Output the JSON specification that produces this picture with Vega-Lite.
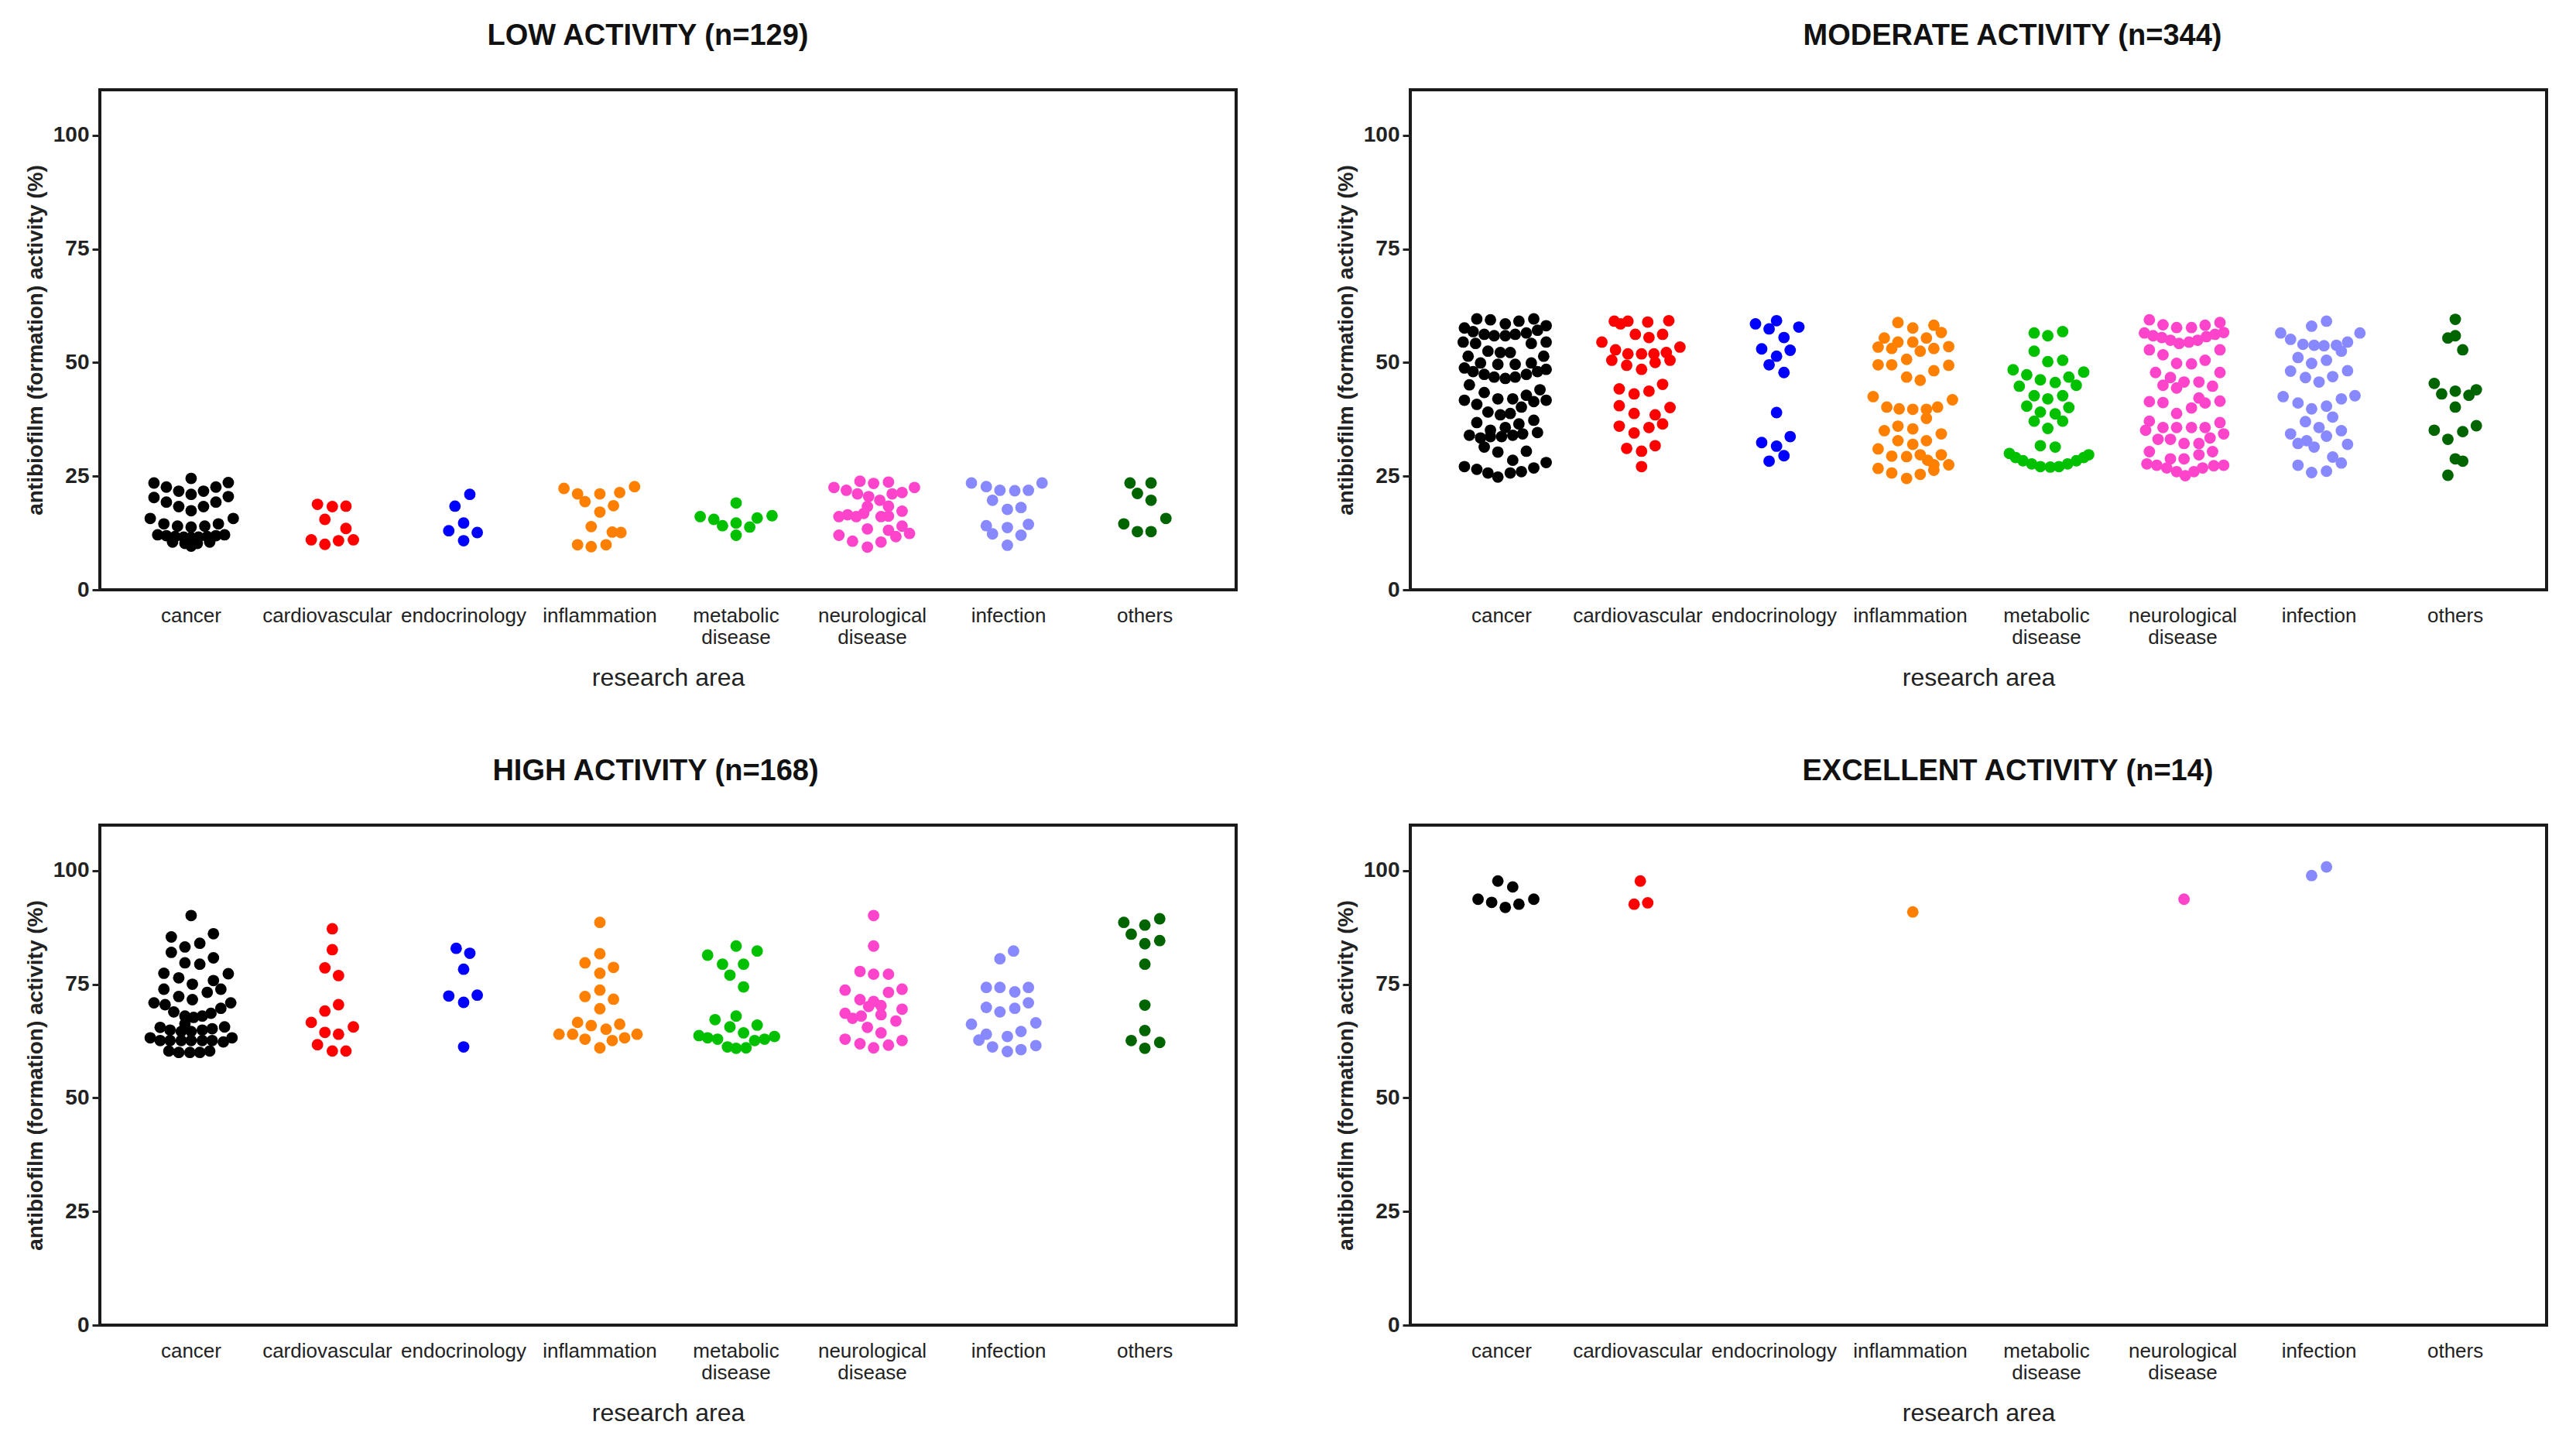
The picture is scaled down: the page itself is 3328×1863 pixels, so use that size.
{
"$schema": "https://vega.github.io/schema/vega-lite/v6.json",
"background": "white",
"padding": {"left": 30, "top": 26, "right": 10, "bottom": 10},
"columns": 2,
"spacing": {"row": 83, "column": 124},
"data": {"values": [
{"panel":"low","area":"cancer","pct":24.5,"lane":0},
{"panel":"low","area":"cancer","pct":23.5,"lane":-3},
{"panel":"low","area":"cancer","pct":22.6,"lane":-2},
{"panel":"low","area":"cancer","pct":21.7,"lane":-1},
{"panel":"low","area":"cancer","pct":21.0,"lane":0},
{"panel":"low","area":"cancer","pct":21.7,"lane":1},
{"panel":"low","area":"cancer","pct":22.6,"lane":2},
{"panel":"low","area":"cancer","pct":23.6,"lane":3},
{"panel":"low","area":"cancer","pct":20.3,"lane":-3},
{"panel":"low","area":"cancer","pct":19.3,"lane":-2},
{"panel":"low","area":"cancer","pct":18.3,"lane":-1},
{"panel":"low","area":"cancer","pct":17.4,"lane":0},
{"panel":"low","area":"cancer","pct":18.3,"lane":1},
{"panel":"low","area":"cancer","pct":19.3,"lane":2},
{"panel":"low","area":"cancer","pct":20.5,"lane":3},
{"panel":"low","area":"cancer","pct":15.7,"lane":-3.3},
{"panel":"low","area":"cancer","pct":15.7,"lane":3.4},
{"panel":"low","area":"cancer","pct":14.5,"lane":-2.2},
{"panel":"low","area":"cancer","pct":14.0,"lane":-1.1},
{"panel":"low","area":"cancer","pct":13.8,"lane":0},
{"panel":"low","area":"cancer","pct":14.0,"lane":1.1},
{"panel":"low","area":"cancer","pct":14.5,"lane":2.2},
{"panel":"low","area":"cancer","pct":12.1,"lane":-2.7},
{"panel":"low","area":"cancer","pct":11.9,"lane":-2},
{"panel":"low","area":"cancer","pct":11.7,"lane":-1.3},
{"panel":"low","area":"cancer","pct":11.6,"lane":-0.6},
{"panel":"low","area":"cancer","pct":11.5,"lane":0},
{"panel":"low","area":"cancer","pct":11.6,"lane":0.6},
{"panel":"low","area":"cancer","pct":11.7,"lane":1.3},
{"panel":"low","area":"cancer","pct":11.9,"lane":2},
{"panel":"low","area":"cancer","pct":12.1,"lane":2.7},
{"panel":"low","area":"cancer","pct":10.5,"lane":-1.5},
{"panel":"low","area":"cancer","pct":10.2,"lane":-0.5},
{"panel":"low","area":"cancer","pct":10.2,"lane":0.5},
{"panel":"low","area":"cancer","pct":10.5,"lane":1.5},
{"panel":"low","area":"cancer","pct":9.6,"lane":0},
{"panel":"low","area":"cardiovascular","pct":18.8,"lane":-0.8},
{"panel":"low","area":"cardiovascular","pct":18.3,"lane":0.4},
{"panel":"low","area":"cardiovascular","pct":18.4,"lane":1.5},
{"panel":"low","area":"cardiovascular","pct":15.5,"lane":-0.2},
{"panel":"low","area":"cardiovascular","pct":13.5,"lane":1.5},
{"panel":"low","area":"cardiovascular","pct":11.0,"lane":-1.3},
{"panel":"low","area":"cardiovascular","pct":10.0,"lane":-0.2},
{"panel":"low","area":"cardiovascular","pct":10.8,"lane":0.9},
{"panel":"low","area":"cardiovascular","pct":11.0,"lane":2.1},
{"panel":"low","area":"endocrinology","pct":21.0,"lane":0.5},
{"panel":"low","area":"endocrinology","pct":18.4,"lane":-0.7},
{"panel":"low","area":"endocrinology","pct":14.7,"lane":0},
{"panel":"low","area":"endocrinology","pct":13.0,"lane":-1.2},
{"panel":"low","area":"endocrinology","pct":12.6,"lane":1.1},
{"panel":"low","area":"endocrinology","pct":10.8,"lane":0},
{"panel":"low","area":"inflammation","pct":22.3,"lane":-2.9},
{"panel":"low","area":"inflammation","pct":22.7,"lane":2.8},
{"panel":"low","area":"inflammation","pct":21.1,"lane":-1.8},
{"panel":"low","area":"inflammation","pct":21.1,"lane":0},
{"panel":"low","area":"inflammation","pct":21.4,"lane":1.6},
{"panel":"low","area":"inflammation","pct":19.4,"lane":-1.2},
{"panel":"low","area":"inflammation","pct":18.5,"lane":1.1},
{"panel":"low","area":"inflammation","pct":17.1,"lane":0},
{"panel":"low","area":"inflammation","pct":13.9,"lane":-0.7},
{"panel":"low","area":"inflammation","pct":12.7,"lane":1},
{"panel":"low","area":"inflammation","pct":12.6,"lane":1.7},
{"panel":"low","area":"inflammation","pct":9.9,"lane":-1.8},
{"panel":"low","area":"inflammation","pct":9.5,"lane":-0.7},
{"panel":"low","area":"inflammation","pct":9.9,"lane":0.5},
{"panel":"low","area":"metabolic disease","pct":16.1,"lane":-2.9},
{"panel":"low","area":"metabolic disease","pct":15.5,"lane":-1.8},
{"panel":"low","area":"metabolic disease","pct":14.1,"lane":-1.1},
{"panel":"low","area":"metabolic disease","pct":19.1,"lane":0},
{"panel":"low","area":"metabolic disease","pct":14.7,"lane":0},
{"panel":"low","area":"metabolic disease","pct":13.8,"lane":1.1},
{"panel":"low","area":"metabolic disease","pct":15.8,"lane":1.7},
{"panel":"low","area":"metabolic disease","pct":16.3,"lane":2.9},
{"panel":"low","area":"metabolic disease","pct":12.0,"lane":0},
{"panel":"low","area":"neurological disease","pct":22.5,"lane":-3.1},
{"panel":"low","area":"neurological disease","pct":21.9,"lane":-2.1},
{"panel":"low","area":"neurological disease","pct":23.9,"lane":-1},
{"panel":"low","area":"neurological disease","pct":23.4,"lane":0.1},
{"panel":"low","area":"neurological disease","pct":23.7,"lane":1.3},
{"panel":"low","area":"neurological disease","pct":22.5,"lane":3.4},
{"panel":"low","area":"neurological disease","pct":21.1,"lane":-1.2},
{"panel":"low","area":"neurological disease","pct":20.5,"lane":-0.3},
{"panel":"low","area":"neurological disease","pct":21.1,"lane":1.6},
{"panel":"low","area":"neurological disease","pct":21.4,"lane":2.4},
{"panel":"low","area":"neurological disease","pct":19.7,"lane":0.6},
{"panel":"low","area":"neurological disease","pct":18.3,"lane":-0.4},
{"panel":"low","area":"neurological disease","pct":18.4,"lane":1.3},
{"panel":"low","area":"neurological disease","pct":17.3,"lane":2.4},
{"panel":"low","area":"neurological disease","pct":16.1,"lane":-2.7},
{"panel":"low","area":"neurological disease","pct":16.5,"lane":-2},
{"panel":"low","area":"neurological disease","pct":16.1,"lane":-1.3},
{"panel":"low","area":"neurological disease","pct":16.8,"lane":-0.7},
{"panel":"low","area":"neurological disease","pct":16.1,"lane":0.7},
{"panel":"low","area":"neurological disease","pct":16.2,"lane":1.3},
{"panel":"low","area":"neurological disease","pct":13.4,"lane":-0.4},
{"panel":"low","area":"neurological disease","pct":13.1,"lane":1.3},
{"panel":"low","area":"neurological disease","pct":14.0,"lane":2.4},
{"panel":"low","area":"neurological disease","pct":11.7,"lane":1.9},
{"panel":"low","area":"neurological disease","pct":12.4,"lane":3},
{"panel":"low","area":"neurological disease","pct":12.0,"lane":-2.7},
{"panel":"low","area":"neurological disease","pct":10.7,"lane":-1.6},
{"panel":"low","area":"neurological disease","pct":9.4,"lane":-0.4},
{"panel":"low","area":"neurological disease","pct":10.5,"lane":0.7},
{"panel":"low","area":"infection","pct":23.5,"lane":-3},
{"panel":"low","area":"infection","pct":22.7,"lane":-1.8},
{"panel":"low","area":"infection","pct":21.9,"lane":-0.7},
{"panel":"low","area":"infection","pct":21.8,"lane":0.5},
{"panel":"low","area":"infection","pct":21.9,"lane":1.6},
{"panel":"low","area":"infection","pct":23.5,"lane":2.7},
{"panel":"low","area":"infection","pct":19.7,"lane":-1.3},
{"panel":"low","area":"infection","pct":17.7,"lane":-0.1},
{"panel":"low","area":"infection","pct":18.1,"lane":1},
{"panel":"low","area":"infection","pct":14.1,"lane":-1.8},
{"panel":"low","area":"infection","pct":13.7,"lane":-0.1},
{"panel":"low","area":"infection","pct":14.4,"lane":1.6},
{"panel":"low","area":"infection","pct":12.3,"lane":-1.3},
{"panel":"low","area":"infection","pct":12.0,"lane":1},
{"panel":"low","area":"infection","pct":9.8,"lane":-0.1},
{"panel":"low","area":"others","pct":23.5,"lane":-1.2},
{"panel":"low","area":"others","pct":23.5,"lane":0.5},
{"panel":"low","area":"others","pct":21.2,"lane":-0.6},
{"panel":"low","area":"others","pct":19.7,"lane":0.5},
{"panel":"low","area":"others","pct":15.7,"lane":1.7},
{"panel":"low","area":"others","pct":14.5,"lane":-1.7},
{"panel":"low","area":"others","pct":12.8,"lane":-0.6},
{"panel":"low","area":"others","pct":12.8,"lane":0.5},
{"panel":"moderate","area":"cancer","pct":59.6,"lane":-2},
{"panel":"moderate","area":"cancer","pct":59.4,"lane":-0.9},
{"panel":"moderate","area":"cancer","pct":58.5,"lane":0.3},
{"panel":"moderate","area":"cancer","pct":59.1,"lane":1.4},
{"panel":"moderate","area":"cancer","pct":59.6,"lane":2.6},
{"panel":"moderate","area":"cancer","pct":57.6,"lane":-3},
{"panel":"moderate","area":"cancer","pct":56.8,"lane":-2.3},
{"panel":"moderate","area":"cancer","pct":56.2,"lane":-1.4},
{"panel":"moderate","area":"cancer","pct":55.9,"lane":-0.6},
{"panel":"moderate","area":"cancer","pct":55.9,"lane":0.3},
{"panel":"moderate","area":"cancer","pct":56.2,"lane":1.1},
{"panel":"moderate","area":"cancer","pct":56.5,"lane":2},
{"panel":"moderate","area":"cancer","pct":57.1,"lane":2.9},
{"panel":"moderate","area":"cancer","pct":58.1,"lane":3.6},
{"panel":"moderate","area":"cancer","pct":54.5,"lane":-3.1},
{"panel":"moderate","area":"cancer","pct":54.2,"lane":-2.1},
{"panel":"moderate","area":"cancer","pct":54.2,"lane":2.4},
{"panel":"moderate","area":"cancer","pct":54.5,"lane":3.6},
{"panel":"moderate","area":"cancer","pct":52.5,"lane":-1.1},
{"panel":"moderate","area":"cancer","pct":52.2,"lane":-0.1},
{"panel":"moderate","area":"cancer","pct":52.2,"lane":0.7},
{"panel":"moderate","area":"cancer","pct":51.4,"lane":-2.7},
{"panel":"moderate","area":"cancer","pct":51.4,"lane":3.4},
{"panel":"moderate","area":"cancer","pct":48.8,"lane":-3},
{"panel":"moderate","area":"cancer","pct":48.0,"lane":-2.3},
{"panel":"moderate","area":"cancer","pct":47.4,"lane":-1.4},
{"panel":"moderate","area":"cancer","pct":46.8,"lane":-0.6},
{"panel":"moderate","area":"cancer","pct":46.5,"lane":0.3},
{"panel":"moderate","area":"cancer","pct":46.8,"lane":1.1},
{"panel":"moderate","area":"cancer","pct":47.4,"lane":2},
{"panel":"moderate","area":"cancer","pct":48.0,"lane":2.9},
{"panel":"moderate","area":"cancer","pct":48.5,"lane":3.6},
{"panel":"moderate","area":"cancer","pct":49.9,"lane":-1.7},
{"panel":"moderate","area":"cancer","pct":49.6,"lane":-0.3},
{"panel":"moderate","area":"cancer","pct":49.6,"lane":1.1},
{"panel":"moderate","area":"cancer","pct":49.9,"lane":2.4},
{"panel":"moderate","area":"cancer","pct":45.1,"lane":-2.6},
{"panel":"moderate","area":"cancer","pct":44.0,"lane":3.1},
{"panel":"moderate","area":"cancer","pct":43.4,"lane":-1.4},
{"panel":"moderate","area":"cancer","pct":42.0,"lane":-0.3},
{"panel":"moderate","area":"cancer","pct":42.0,"lane":0.9},
{"panel":"moderate","area":"cancer","pct":42.8,"lane":2},
{"panel":"moderate","area":"cancer","pct":41.7,"lane":-3},
{"panel":"moderate","area":"cancer","pct":40.8,"lane":-2},
{"panel":"moderate","area":"cancer","pct":41.7,"lane":3.6},
{"panel":"moderate","area":"cancer","pct":41.4,"lane":2.6},
{"panel":"moderate","area":"cancer","pct":40.2,"lane":1.6},
{"panel":"moderate","area":"cancer","pct":39.1,"lane":-1.1},
{"panel":"moderate","area":"cancer","pct":38.5,"lane":-0.1},
{"panel":"moderate","area":"cancer","pct":38.8,"lane":0.7},
{"panel":"moderate","area":"cancer","pct":36.8,"lane":-2},
{"panel":"moderate","area":"cancer","pct":35.1,"lane":-0.9},
{"panel":"moderate","area":"cancer","pct":35.7,"lane":0.3},
{"panel":"moderate","area":"cancer","pct":36.5,"lane":1.4},
{"panel":"moderate","area":"cancer","pct":37.3,"lane":2.6},
{"panel":"moderate","area":"cancer","pct":34.0,"lane":-2.6},
{"panel":"moderate","area":"cancer","pct":33.4,"lane":-1.7},
{"panel":"moderate","area":"cancer","pct":33.7,"lane":-0.9},
{"panel":"moderate","area":"cancer","pct":33.7,"lane":0},
{"panel":"moderate","area":"cancer","pct":34.0,"lane":0.9},
{"panel":"moderate","area":"cancer","pct":34.3,"lane":1.7},
{"panel":"moderate","area":"cancer","pct":34.6,"lane":2.9},
{"panel":"moderate","area":"cancer","pct":31.4,"lane":-1.4},
{"panel":"moderate","area":"cancer","pct":30.3,"lane":-0.3},
{"panel":"moderate","area":"cancer","pct":30.5,"lane":2},
{"panel":"moderate","area":"cancer","pct":28.5,"lane":0.9},
{"panel":"moderate","area":"cancer","pct":27.1,"lane":-3},
{"panel":"moderate","area":"cancer","pct":26.5,"lane":-2},
{"panel":"moderate","area":"cancer","pct":25.7,"lane":-1.1},
{"panel":"moderate","area":"cancer","pct":24.8,"lane":-0.3},
{"panel":"moderate","area":"cancer","pct":25.7,"lane":0.7},
{"panel":"moderate","area":"cancer","pct":26.0,"lane":1.6},
{"panel":"moderate","area":"cancer","pct":26.8,"lane":2.6},
{"panel":"moderate","area":"cancer","pct":28.0,"lane":3.6},
{"panel":"moderate","area":"cardiovascular","pct":59.1,"lane":-1.9},
{"panel":"moderate","area":"cardiovascular","pct":58.5,"lane":-1.4},
{"panel":"moderate","area":"cardiovascular","pct":59.1,"lane":-0.8},
{"panel":"moderate","area":"cardiovascular","pct":58.9,"lane":0.8},
{"panel":"moderate","area":"cardiovascular","pct":59.2,"lane":2.5},
{"panel":"moderate","area":"cardiovascular","pct":56.2,"lane":-0.2},
{"panel":"moderate","area":"cardiovascular","pct":55.5,"lane":0.9},
{"panel":"moderate","area":"cardiovascular","pct":56.2,"lane":2},
{"panel":"moderate","area":"cardiovascular","pct":54.5,"lane":-2.9},
{"panel":"moderate","area":"cardiovascular","pct":52.8,"lane":-1.8},
{"panel":"moderate","area":"cardiovascular","pct":51.9,"lane":-0.8},
{"panel":"moderate","area":"cardiovascular","pct":51.9,"lane":0.3},
{"panel":"moderate","area":"cardiovascular","pct":51.9,"lane":1.3},
{"panel":"moderate","area":"cardiovascular","pct":52.2,"lane":2.3},
{"panel":"moderate","area":"cardiovascular","pct":53.4,"lane":3.4},
{"panel":"moderate","area":"cardiovascular","pct":50.5,"lane":-2.1},
{"panel":"moderate","area":"cardiovascular","pct":49.4,"lane":-0.9},
{"panel":"moderate","area":"cardiovascular","pct":48.5,"lane":0.3},
{"panel":"moderate","area":"cardiovascular","pct":50.0,"lane":1.4},
{"panel":"moderate","area":"cardiovascular","pct":50.5,"lane":2.6},
{"panel":"moderate","area":"cardiovascular","pct":44.2,"lane":-1.5},
{"panel":"moderate","area":"cardiovascular","pct":43.1,"lane":-0.3},
{"panel":"moderate","area":"cardiovascular","pct":43.7,"lane":0.9},
{"panel":"moderate","area":"cardiovascular","pct":45.2,"lane":2},
{"panel":"moderate","area":"cardiovascular","pct":40.5,"lane":-1.5},
{"panel":"moderate","area":"cardiovascular","pct":38.8,"lane":-0.3},
{"panel":"moderate","area":"cardiovascular","pct":38.5,"lane":1.4},
{"panel":"moderate","area":"cardiovascular","pct":40.1,"lane":2.6},
{"panel":"moderate","area":"cardiovascular","pct":36.5,"lane":2},
{"panel":"moderate","area":"cardiovascular","pct":36.0,"lane":-1.5},
{"panel":"moderate","area":"cardiovascular","pct":34.5,"lane":-0.3},
{"panel":"moderate","area":"cardiovascular","pct":35.7,"lane":0.9},
{"panel":"moderate","area":"cardiovascular","pct":31.1,"lane":-0.9},
{"panel":"moderate","area":"cardiovascular","pct":30.5,"lane":0.3},
{"panel":"moderate","area":"cardiovascular","pct":31.7,"lane":1.4},
{"panel":"moderate","area":"cardiovascular","pct":27.1,"lane":0.3},
{"panel":"moderate","area":"endocrinology","pct":58.5,"lane":-1.5},
{"panel":"moderate","area":"endocrinology","pct":59.2,"lane":0.2},
{"panel":"moderate","area":"endocrinology","pct":57.4,"lane":-0.4},
{"panel":"moderate","area":"endocrinology","pct":57.8,"lane":2},
{"panel":"moderate","area":"endocrinology","pct":55.5,"lane":0.8},
{"panel":"moderate","area":"endocrinology","pct":53.0,"lane":-1},
{"panel":"moderate","area":"endocrinology","pct":52.7,"lane":1.3},
{"panel":"moderate","area":"endocrinology","pct":51.4,"lane":0.2},
{"panel":"moderate","area":"endocrinology","pct":49.5,"lane":-0.4},
{"panel":"moderate","area":"endocrinology","pct":47.8,"lane":0.8},
{"panel":"moderate","area":"endocrinology","pct":39.0,"lane":0.2},
{"panel":"moderate","area":"endocrinology","pct":32.4,"lane":-1},
{"panel":"moderate","area":"endocrinology","pct":33.7,"lane":1.3},
{"panel":"moderate","area":"endocrinology","pct":31.6,"lane":0.2},
{"panel":"moderate","area":"endocrinology","pct":29.5,"lane":0.8},
{"panel":"moderate","area":"endocrinology","pct":28.3,"lane":-0.4},
{"panel":"moderate","area":"inflammation","pct":58.8,"lane":-1},
{"panel":"moderate","area":"inflammation","pct":57.6,"lane":0.2},
{"panel":"moderate","area":"inflammation","pct":58.2,"lane":1.9},
{"panel":"moderate","area":"inflammation","pct":56.6,"lane":2.5},
{"panel":"moderate","area":"inflammation","pct":55.4,"lane":-2.1},
{"panel":"moderate","area":"inflammation","pct":54.5,"lane":-1},
{"panel":"moderate","area":"inflammation","pct":54.5,"lane":0.2},
{"panel":"moderate","area":"inflammation","pct":55.4,"lane":1.3},
{"panel":"moderate","area":"inflammation","pct":53.4,"lane":-2.6},
{"panel":"moderate","area":"inflammation","pct":53.1,"lane":-1.5},
{"panel":"moderate","area":"inflammation","pct":52.5,"lane":0.8},
{"panel":"moderate","area":"inflammation","pct":53.1,"lane":1.9},
{"panel":"moderate","area":"inflammation","pct":53.5,"lane":3.1},
{"panel":"moderate","area":"inflammation","pct":50.7,"lane":-0.3},
{"panel":"moderate","area":"inflammation","pct":49.5,"lane":-2.6},
{"panel":"moderate","area":"inflammation","pct":49.5,"lane":-1.5},
{"panel":"moderate","area":"inflammation","pct":48.2,"lane":1.9},
{"panel":"moderate","area":"inflammation","pct":49.4,"lane":3.1},
{"panel":"moderate","area":"inflammation","pct":46.8,"lane":-0.3},
{"panel":"moderate","area":"inflammation","pct":46.1,"lane":0.8},
{"panel":"moderate","area":"inflammation","pct":42.5,"lane":-3},
{"panel":"moderate","area":"inflammation","pct":41.8,"lane":3.4},
{"panel":"moderate","area":"inflammation","pct":40.2,"lane":-1.9},
{"panel":"moderate","area":"inflammation","pct":39.8,"lane":-0.9},
{"panel":"moderate","area":"inflammation","pct":39.7,"lane":0.2},
{"panel":"moderate","area":"inflammation","pct":39.7,"lane":1.3},
{"panel":"moderate","area":"inflammation","pct":40.2,"lane":2.2},
{"panel":"moderate","area":"inflammation","pct":37.7,"lane":1.3},
{"panel":"moderate","area":"inflammation","pct":35.0,"lane":-2.1},
{"panel":"moderate","area":"inflammation","pct":36.0,"lane":-1},
{"panel":"moderate","area":"inflammation","pct":35.4,"lane":0.2},
{"panel":"moderate","area":"inflammation","pct":34.3,"lane":2.5},
{"panel":"moderate","area":"inflammation","pct":32.8,"lane":-1},
{"panel":"moderate","area":"inflammation","pct":32.0,"lane":0.2},
{"panel":"moderate","area":"inflammation","pct":32.8,"lane":1.3},
{"panel":"moderate","area":"inflammation","pct":31.0,"lane":-2.6},
{"panel":"moderate","area":"inflammation","pct":29.4,"lane":-1.5},
{"panel":"moderate","area":"inflammation","pct":29.3,"lane":-0.3},
{"panel":"moderate","area":"inflammation","pct":29.7,"lane":0.8},
{"panel":"moderate","area":"inflammation","pct":28.5,"lane":1.4},
{"panel":"moderate","area":"inflammation","pct":29.7,"lane":2.5},
{"panel":"moderate","area":"inflammation","pct":27.5,"lane":1.9},
{"panel":"moderate","area":"inflammation","pct":27.5,"lane":3.1},
{"panel":"moderate","area":"inflammation","pct":26.7,"lane":-2.6},
{"panel":"moderate","area":"inflammation","pct":25.7,"lane":-1.5},
{"panel":"moderate","area":"inflammation","pct":24.5,"lane":-0.3},
{"panel":"moderate","area":"inflammation","pct":25.4,"lane":0.8},
{"panel":"moderate","area":"inflammation","pct":26.3,"lane":1.9},
{"panel":"moderate","area":"metabolic disease","pct":56.5,"lane":-1},
{"panel":"moderate","area":"metabolic disease","pct":55.9,"lane":0.1},
{"panel":"moderate","area":"metabolic disease","pct":56.8,"lane":1.3},
{"panel":"moderate","area":"metabolic disease","pct":52.5,"lane":-1},
{"panel":"moderate","area":"metabolic disease","pct":50.2,"lane":0.1},
{"panel":"moderate","area":"metabolic disease","pct":50.5,"lane":1.3},
{"panel":"moderate","area":"metabolic disease","pct":48.4,"lane":-2.7},
{"panel":"moderate","area":"metabolic disease","pct":47.3,"lane":-1.6},
{"panel":"moderate","area":"metabolic disease","pct":46.2,"lane":-0.5},
{"panel":"moderate","area":"metabolic disease","pct":45.6,"lane":0.7},
{"panel":"moderate","area":"metabolic disease","pct":46.8,"lane":1.8},
{"panel":"moderate","area":"metabolic disease","pct":47.9,"lane":3},
{"panel":"moderate","area":"metabolic disease","pct":44.8,"lane":-2.2},
{"panel":"moderate","area":"metabolic disease","pct":45.0,"lane":2.4},
{"panel":"moderate","area":"metabolic disease","pct":42.7,"lane":-1},
{"panel":"moderate","area":"metabolic disease","pct":42.0,"lane":0.1},
{"panel":"moderate","area":"metabolic disease","pct":42.7,"lane":1.3},
{"panel":"moderate","area":"metabolic disease","pct":40.4,"lane":-1.6},
{"panel":"moderate","area":"metabolic disease","pct":40.1,"lane":1.8},
{"panel":"moderate","area":"metabolic disease","pct":39.1,"lane":-0.5},
{"panel":"moderate","area":"metabolic disease","pct":38.7,"lane":0.7},
{"panel":"moderate","area":"metabolic disease","pct":37.1,"lane":-1},
{"panel":"moderate","area":"metabolic disease","pct":37.1,"lane":1.3},
{"panel":"moderate","area":"metabolic disease","pct":35.5,"lane":0.1},
{"panel":"moderate","area":"metabolic disease","pct":31.7,"lane":-0.5},
{"panel":"moderate","area":"metabolic disease","pct":31.4,"lane":0.7},
{"panel":"moderate","area":"metabolic disease","pct":30.0,"lane":-3},
{"panel":"moderate","area":"metabolic disease","pct":29.1,"lane":-2.5},
{"panel":"moderate","area":"metabolic disease","pct":28.4,"lane":-1.9},
{"panel":"moderate","area":"metabolic disease","pct":27.7,"lane":-1.2},
{"panel":"moderate","area":"metabolic disease","pct":27.1,"lane":-0.5},
{"panel":"moderate","area":"metabolic disease","pct":27.0,"lane":0.3},
{"panel":"moderate","area":"metabolic disease","pct":27.1,"lane":1},
{"panel":"moderate","area":"metabolic disease","pct":27.7,"lane":1.7},
{"panel":"moderate","area":"metabolic disease","pct":28.4,"lane":2.4},
{"panel":"moderate","area":"metabolic disease","pct":29.1,"lane":3},
{"panel":"moderate","area":"metabolic disease","pct":29.7,"lane":3.4},
{"panel":"moderate","area":"neurological disease","pct":59.4,"lane":-2.7},
{"panel":"moderate","area":"neurological disease","pct":58.3,"lane":-1.6},
{"panel":"moderate","area":"neurological disease","pct":57.7,"lane":-0.5},
{"panel":"moderate","area":"neurological disease","pct":57.7,"lane":0.7},
{"panel":"moderate","area":"neurological disease","pct":58.2,"lane":1.8},
{"panel":"moderate","area":"neurological disease","pct":58.8,"lane":3},
{"panel":"moderate","area":"neurological disease","pct":56.5,"lane":-3.1},
{"panel":"moderate","area":"neurological disease","pct":56.6,"lane":3.3},
{"panel":"moderate","area":"neurological disease","pct":55.9,"lane":-2.4},
{"panel":"moderate","area":"neurological disease","pct":55.5,"lane":-1.7},
{"panel":"moderate","area":"neurological disease","pct":54.9,"lane":-1},
{"panel":"moderate","area":"neurological disease","pct":54.2,"lane":-0.3},
{"panel":"moderate","area":"neurological disease","pct":54.5,"lane":0.5},
{"panel":"moderate","area":"neurological disease","pct":54.9,"lane":1.2},
{"panel":"moderate","area":"neurological disease","pct":55.7,"lane":1.9},
{"panel":"moderate","area":"neurological disease","pct":56.2,"lane":2.6},
{"panel":"moderate","area":"neurological disease","pct":52.8,"lane":-2.7},
{"panel":"moderate","area":"neurological disease","pct":51.7,"lane":-1.6},
{"panel":"moderate","area":"neurological disease","pct":52.8,"lane":3},
{"panel":"moderate","area":"neurological disease","pct":49.8,"lane":-0.5},
{"panel":"moderate","area":"neurological disease","pct":49.7,"lane":0.7},
{"panel":"moderate","area":"neurological disease","pct":50.5,"lane":1.8},
{"panel":"moderate","area":"neurological disease","pct":47.8,"lane":-2.2},
{"panel":"moderate","area":"neurological disease","pct":46.7,"lane":-1},
{"panel":"moderate","area":"neurological disease","pct":47.8,"lane":3},
{"panel":"moderate","area":"neurological disease","pct":45.0,"lane":-1.6},
{"panel":"moderate","area":"neurological disease","pct":44.4,"lane":-0.5},
{"panel":"moderate","area":"neurological disease","pct":45.7,"lane":0.1},
{"panel":"moderate","area":"neurological disease","pct":45.7,"lane":1.3},
{"panel":"moderate","area":"neurological disease","pct":44.8,"lane":2.4},
{"panel":"moderate","area":"neurological disease","pct":41.4,"lane":-2.7},
{"panel":"moderate","area":"neurological disease","pct":41.2,"lane":-1.6},
{"panel":"moderate","area":"neurological disease","pct":42.2,"lane":1.3},
{"panel":"moderate","area":"neurological disease","pct":41.1,"lane":1.8},
{"panel":"moderate","area":"neurological disease","pct":41.5,"lane":3},
{"panel":"moderate","area":"neurological disease","pct":38.8,"lane":-0.5},
{"panel":"moderate","area":"neurological disease","pct":40.0,"lane":0.7},
{"panel":"moderate","area":"neurological disease","pct":37.1,"lane":-2.7},
{"panel":"moderate","area":"neurological disease","pct":35.1,"lane":-3},
{"panel":"moderate","area":"neurological disease","pct":35.7,"lane":-1.6},
{"panel":"moderate","area":"neurological disease","pct":35.7,"lane":-0.5},
{"panel":"moderate","area":"neurological disease","pct":35.7,"lane":0.7},
{"panel":"moderate","area":"neurological disease","pct":35.7,"lane":1.8},
{"panel":"moderate","area":"neurological disease","pct":36.8,"lane":3},
{"panel":"moderate","area":"neurological disease","pct":34.3,"lane":3.3},
{"panel":"moderate","area":"neurological disease","pct":33.1,"lane":-2},
{"panel":"moderate","area":"neurological disease","pct":33.1,"lane":-1},
{"panel":"moderate","area":"neurological disease","pct":32.2,"lane":0.1},
{"panel":"moderate","area":"neurological disease","pct":32.2,"lane":1.3},
{"panel":"moderate","area":"neurological disease","pct":33.4,"lane":2.2},
{"panel":"moderate","area":"neurological disease","pct":30.4,"lane":-2.7},
{"panel":"moderate","area":"neurological disease","pct":30.4,"lane":2.4},
{"panel":"moderate","area":"neurological disease","pct":28.8,"lane":-1},
{"panel":"moderate","area":"neurological disease","pct":28.8,"lane":0.1},
{"panel":"moderate","area":"neurological disease","pct":29.7,"lane":1.3},
{"panel":"moderate","area":"neurological disease","pct":27.7,"lane":-2.9},
{"panel":"moderate","area":"neurological disease","pct":27.4,"lane":-2.1},
{"panel":"moderate","area":"neurological disease","pct":26.8,"lane":-1.3},
{"panel":"moderate","area":"neurological disease","pct":26.0,"lane":-0.5},
{"panel":"moderate","area":"neurological disease","pct":25.1,"lane":0.2},
{"panel":"moderate","area":"neurological disease","pct":26.0,"lane":0.9},
{"panel":"moderate","area":"neurological disease","pct":26.8,"lane":1.6},
{"panel":"moderate","area":"neurological disease","pct":27.3,"lane":2.5},
{"panel":"moderate","area":"neurological disease","pct":27.4,"lane":3.3},
{"panel":"moderate","area":"infection","pct":58.0,"lane":-0.6},
{"panel":"moderate","area":"infection","pct":59.1,"lane":0.6},
{"panel":"moderate","area":"infection","pct":56.5,"lane":-3.1},
{"panel":"moderate","area":"infection","pct":56.5,"lane":3.3},
{"panel":"moderate","area":"infection","pct":55.1,"lane":-2.3},
{"panel":"moderate","area":"infection","pct":54.0,"lane":-1.3},
{"panel":"moderate","area":"infection","pct":53.8,"lane":-0.4},
{"panel":"moderate","area":"infection","pct":53.7,"lane":0.4},
{"panel":"moderate","area":"infection","pct":53.8,"lane":1.4},
{"panel":"moderate","area":"infection","pct":54.5,"lane":2.3},
{"panel":"moderate","area":"infection","pct":52.5,"lane":1.8},
{"panel":"moderate","area":"infection","pct":51.1,"lane":-1.7},
{"panel":"moderate","area":"infection","pct":49.8,"lane":-0.6},
{"panel":"moderate","area":"infection","pct":50.5,"lane":0.6},
{"panel":"moderate","area":"infection","pct":48.1,"lane":-2.3},
{"panel":"moderate","area":"infection","pct":46.7,"lane":-1.1},
{"panel":"moderate","area":"infection","pct":45.7,"lane":0},
{"panel":"moderate","area":"infection","pct":46.9,"lane":1.1},
{"panel":"moderate","area":"infection","pct":48.2,"lane":2.3},
{"panel":"moderate","area":"infection","pct":42.5,"lane":-2.9},
{"panel":"moderate","area":"infection","pct":41.1,"lane":-1.7},
{"panel":"moderate","area":"infection","pct":39.8,"lane":-0.6},
{"panel":"moderate","area":"infection","pct":40.4,"lane":0.6},
{"panel":"moderate","area":"infection","pct":42.0,"lane":1.8},
{"panel":"moderate","area":"infection","pct":42.7,"lane":2.9},
{"panel":"moderate","area":"infection","pct":38.0,"lane":1.1},
{"panel":"moderate","area":"infection","pct":37.0,"lane":-1.1},
{"panel":"moderate","area":"infection","pct":35.7,"lane":0},
{"panel":"moderate","area":"infection","pct":35.0,"lane":1.8},
{"panel":"moderate","area":"infection","pct":34.3,"lane":-2.3},
{"panel":"moderate","area":"infection","pct":33.8,"lane":0.6},
{"panel":"moderate","area":"infection","pct":32.2,"lane":-1.7},
{"panel":"moderate","area":"infection","pct":32.8,"lane":-1},
{"panel":"moderate","area":"infection","pct":31.4,"lane":-0.4},
{"panel":"moderate","area":"infection","pct":32.0,"lane":2.3},
{"panel":"moderate","area":"infection","pct":29.2,"lane":1.1},
{"panel":"moderate","area":"infection","pct":27.9,"lane":1.8},
{"panel":"moderate","area":"infection","pct":27.4,"lane":-1.7},
{"panel":"moderate","area":"infection","pct":25.8,"lane":-0.6},
{"panel":"moderate","area":"infection","pct":26.1,"lane":0.6},
{"panel":"moderate","area":"others","pct":59.5,"lane":0},
{"panel":"moderate","area":"others","pct":55.4,"lane":-0.6},
{"panel":"moderate","area":"others","pct":55.9,"lane":0},
{"panel":"moderate","area":"others","pct":52.8,"lane":0.6},
{"panel":"moderate","area":"others","pct":45.4,"lane":-1.7},
{"panel":"moderate","area":"others","pct":43.1,"lane":-1.1},
{"panel":"moderate","area":"others","pct":43.7,"lane":0},
{"panel":"moderate","area":"others","pct":42.8,"lane":1.1},
{"panel":"moderate","area":"others","pct":44.0,"lane":1.7},
{"panel":"moderate","area":"others","pct":40.2,"lane":0},
{"panel":"moderate","area":"others","pct":35.1,"lane":-1.7},
{"panel":"moderate","area":"others","pct":33.1,"lane":-0.6},
{"panel":"moderate","area":"others","pct":34.8,"lane":0.6},
{"panel":"moderate","area":"others","pct":36.1,"lane":1.7},
{"panel":"moderate","area":"others","pct":28.8,"lane":0},
{"panel":"moderate","area":"others","pct":28.3,"lane":0.6},
{"panel":"moderate","area":"others","pct":25.2,"lane":-0.6},
{"panel":"high","area":"cancer","pct":90.1,"lane":0},
{"panel":"high","area":"cancer","pct":85.4,"lane":-1.6},
{"panel":"high","area":"cancer","pct":86.1,"lane":1.8},
{"panel":"high","area":"cancer","pct":83.2,"lane":-0.5},
{"panel":"high","area":"cancer","pct":84.0,"lane":0.7},
{"panel":"high","area":"cancer","pct":82.0,"lane":-1.6},
{"panel":"high","area":"cancer","pct":79.7,"lane":-0.5},
{"panel":"high","area":"cancer","pct":79.4,"lane":0.7},
{"panel":"high","area":"cancer","pct":80.8,"lane":1.8},
{"panel":"high","area":"cancer","pct":77.4,"lane":-2.2},
{"panel":"high","area":"cancer","pct":77.3,"lane":3},
{"panel":"high","area":"cancer","pct":76.4,"lane":-1},
{"panel":"high","area":"cancer","pct":75.0,"lane":0.1},
{"panel":"high","area":"cancer","pct":75.8,"lane":1.8},
{"panel":"high","area":"cancer","pct":73.9,"lane":-2.2},
{"panel":"high","area":"cancer","pct":72.3,"lane":-1},
{"panel":"high","area":"cancer","pct":71.6,"lane":0.1},
{"panel":"high","area":"cancer","pct":73.2,"lane":1.3},
{"panel":"high","area":"cancer","pct":73.9,"lane":2.4},
{"panel":"high","area":"cancer","pct":70.9,"lane":-3},
{"panel":"high","area":"cancer","pct":70.5,"lane":-2.1},
{"panel":"high","area":"cancer","pct":70.9,"lane":3.2},
{"panel":"high","area":"cancer","pct":69.7,"lane":2.4},
{"panel":"high","area":"cancer","pct":68.9,"lane":-1.4},
{"panel":"high","area":"cancer","pct":68.0,"lane":-0.5},
{"panel":"high","area":"cancer","pct":67.7,"lane":0.2},
{"panel":"high","area":"cancer","pct":68.0,"lane":0.9},
{"panel":"high","area":"cancer","pct":68.6,"lane":1.6},
{"panel":"high","area":"cancer","pct":66.3,"lane":-0.5},
{"panel":"high","area":"cancer","pct":65.5,"lane":-2.5},
{"panel":"high","area":"cancer","pct":64.9,"lane":-1.7},
{"panel":"high","area":"cancer","pct":64.6,"lane":-0.8},
{"panel":"high","area":"cancer","pct":64.6,"lane":0},
{"panel":"high","area":"cancer","pct":64.9,"lane":0.9},
{"panel":"high","area":"cancer","pct":65.2,"lane":1.7},
{"panel":"high","area":"cancer","pct":65.6,"lane":2.7},
{"panel":"high","area":"cancer","pct":63.2,"lane":-3.3},
{"panel":"high","area":"cancer","pct":62.6,"lane":-2.5},
{"panel":"high","area":"cancer","pct":63.2,"lane":3.3},
{"panel":"high","area":"cancer","pct":62.3,"lane":2.6},
{"panel":"high","area":"cancer","pct":62.6,"lane":-1.7},
{"panel":"high","area":"cancer","pct":62.6,"lane":-0.8},
{"panel":"high","area":"cancer","pct":62.6,"lane":0},
{"panel":"high","area":"cancer","pct":62.6,"lane":0.9},
{"panel":"high","area":"cancer","pct":62.6,"lane":1.7},
{"panel":"high","area":"cancer","pct":60.3,"lane":-1.8},
{"panel":"high","area":"cancer","pct":60.0,"lane":-1},
{"panel":"high","area":"cancer","pct":60.0,"lane":-0.1},
{"panel":"high","area":"cancer","pct":60.0,"lane":0.7},
{"panel":"high","area":"cancer","pct":60.3,"lane":1.5},
{"panel":"high","area":"cardiovascular","pct":87.2,"lane":0.4},
{"panel":"high","area":"cardiovascular","pct":82.6,"lane":0.4},
{"panel":"high","area":"cardiovascular","pct":78.6,"lane":-0.2},
{"panel":"high","area":"cardiovascular","pct":76.9,"lane":0.9},
{"panel":"high","area":"cardiovascular","pct":70.5,"lane":0.9},
{"panel":"high","area":"cardiovascular","pct":69.1,"lane":-0.2},
{"panel":"high","area":"cardiovascular","pct":66.6,"lane":-1.3},
{"panel":"high","area":"cardiovascular","pct":65.6,"lane":2.1},
{"panel":"high","area":"cardiovascular","pct":64.4,"lane":-0.2},
{"panel":"high","area":"cardiovascular","pct":64.0,"lane":0.9},
{"panel":"high","area":"cardiovascular","pct":61.7,"lane":-0.8},
{"panel":"high","area":"cardiovascular","pct":60.3,"lane":0.4},
{"panel":"high","area":"cardiovascular","pct":60.3,"lane":1.5},
{"panel":"high","area":"endocrinology","pct":82.9,"lane":-0.6},
{"panel":"high","area":"endocrinology","pct":81.8,"lane":0.5},
{"panel":"high","area":"endocrinology","pct":78.3,"lane":0},
{"panel":"high","area":"endocrinology","pct":72.4,"lane":-1.2},
{"panel":"high","area":"endocrinology","pct":71.0,"lane":0},
{"panel":"high","area":"endocrinology","pct":72.6,"lane":1.1},
{"panel":"high","area":"endocrinology","pct":61.2,"lane":0},
{"panel":"high","area":"inflammation","pct":88.6,"lane":0},
{"panel":"high","area":"inflammation","pct":81.7,"lane":0},
{"panel":"high","area":"inflammation","pct":79.7,"lane":-1.2},
{"panel":"high","area":"inflammation","pct":78.7,"lane":1.1},
{"panel":"high","area":"inflammation","pct":77.4,"lane":0},
{"panel":"high","area":"inflammation","pct":73.7,"lane":0},
{"panel":"high","area":"inflammation","pct":72.3,"lane":-1.2},
{"panel":"high","area":"inflammation","pct":71.7,"lane":1.1},
{"panel":"high","area":"inflammation","pct":69.6,"lane":0},
{"panel":"high","area":"inflammation","pct":66.6,"lane":-1.8},
{"panel":"high","area":"inflammation","pct":65.9,"lane":-0.7},
{"panel":"high","area":"inflammation","pct":65.1,"lane":0.5},
{"panel":"high","area":"inflammation","pct":66.2,"lane":1.6},
{"panel":"high","area":"inflammation","pct":64.0,"lane":-3.3},
{"panel":"high","area":"inflammation","pct":64.0,"lane":-2.2},
{"panel":"high","area":"inflammation","pct":62.9,"lane":-1.2},
{"panel":"high","area":"inflammation","pct":62.6,"lane":1},
{"panel":"high","area":"inflammation","pct":63.2,"lane":2},
{"panel":"high","area":"inflammation","pct":64.0,"lane":3},
{"panel":"high","area":"inflammation","pct":61.0,"lane":0},
{"panel":"high","area":"metabolic disease","pct":81.4,"lane":-2.3},
{"panel":"high","area":"metabolic disease","pct":83.4,"lane":0},
{"panel":"high","area":"metabolic disease","pct":82.3,"lane":1.7},
{"panel":"high","area":"metabolic disease","pct":79.4,"lane":-1.1},
{"panel":"high","area":"metabolic disease","pct":79.4,"lane":0.6},
{"panel":"high","area":"metabolic disease","pct":77.0,"lane":-0.5},
{"panel":"high","area":"metabolic disease","pct":74.4,"lane":0.6},
{"panel":"high","area":"metabolic disease","pct":67.2,"lane":-1.7},
{"panel":"high","area":"metabolic disease","pct":68.0,"lane":0},
{"panel":"high","area":"metabolic disease","pct":65.6,"lane":-0.5},
{"panel":"high","area":"metabolic disease","pct":66.0,"lane":1.7},
{"panel":"high","area":"metabolic disease","pct":64.3,"lane":0.6},
{"panel":"high","area":"metabolic disease","pct":63.7,"lane":-3},
{"panel":"high","area":"metabolic disease","pct":63.2,"lane":-2.3},
{"panel":"high","area":"metabolic disease","pct":62.9,"lane":-1.5},
{"panel":"high","area":"metabolic disease","pct":61.2,"lane":-0.7},
{"panel":"high","area":"metabolic disease","pct":60.9,"lane":0},
{"panel":"high","area":"metabolic disease","pct":61.0,"lane":0.8},
{"panel":"high","area":"metabolic disease","pct":62.6,"lane":1.5},
{"panel":"high","area":"metabolic disease","pct":62.9,"lane":2.3},
{"panel":"high","area":"metabolic disease","pct":63.5,"lane":3.1},
{"panel":"high","area":"neurological disease","pct":90.1,"lane":0.1},
{"panel":"high","area":"neurological disease","pct":83.4,"lane":0.1},
{"panel":"high","area":"neurological disease","pct":77.8,"lane":-1},
{"panel":"high","area":"neurological disease","pct":77.2,"lane":0.1},
{"panel":"high","area":"neurological disease","pct":77.2,"lane":1.3},
{"panel":"high","area":"neurological disease","pct":73.7,"lane":-2.2},
{"panel":"high","area":"neurological disease","pct":73.2,"lane":1.3},
{"panel":"high","area":"neurological disease","pct":73.9,"lane":2.4},
{"panel":"high","area":"neurological disease","pct":71.6,"lane":-1},
{"panel":"high","area":"neurological disease","pct":70.1,"lane":-0.3},
{"panel":"high","area":"neurological disease","pct":71.2,"lane":0.1},
{"panel":"high","area":"neurological disease","pct":70.3,"lane":0.7},
{"panel":"high","area":"neurological disease","pct":69.5,"lane":2.4},
{"panel":"high","area":"neurological disease","pct":68.6,"lane":-2.2},
{"panel":"high","area":"neurological disease","pct":67.5,"lane":-1.6},
{"panel":"high","area":"neurological disease","pct":68.0,"lane":-0.9},
{"panel":"high","area":"neurological disease","pct":68.3,"lane":0.7},
{"panel":"high","area":"neurological disease","pct":66.9,"lane":1.9},
{"panel":"high","area":"neurological disease","pct":65.5,"lane":-0.4},
{"panel":"high","area":"neurological disease","pct":64.3,"lane":0.7},
{"panel":"high","area":"neurological disease","pct":62.9,"lane":-2.2},
{"panel":"high","area":"neurological disease","pct":61.9,"lane":-1},
{"panel":"high","area":"neurological disease","pct":61.0,"lane":0.1},
{"panel":"high","area":"neurological disease","pct":61.6,"lane":1.3},
{"panel":"high","area":"neurological disease","pct":62.6,"lane":2.4},
{"panel":"high","area":"infection","pct":80.6,"lane":-0.7},
{"panel":"high","area":"infection","pct":82.3,"lane":0.4},
{"panel":"high","area":"infection","pct":74.3,"lane":-1.8},
{"panel":"high","area":"infection","pct":74.3,"lane":-0.7},
{"panel":"high","area":"infection","pct":73.3,"lane":0.5},
{"panel":"high","area":"infection","pct":74.3,"lane":1.6},
{"panel":"high","area":"infection","pct":69.9,"lane":-1.8},
{"panel":"high","area":"infection","pct":68.9,"lane":-0.7},
{"panel":"high","area":"infection","pct":69.7,"lane":0.5},
{"panel":"high","area":"infection","pct":70.9,"lane":1.6},
{"panel":"high","area":"infection","pct":66.2,"lane":-3},
{"panel":"high","area":"infection","pct":66.5,"lane":2.2},
{"panel":"high","area":"infection","pct":64.6,"lane":1},
{"panel":"high","area":"infection","pct":64.0,"lane":-1.8},
{"panel":"high","area":"infection","pct":63.5,"lane":-0.1},
{"panel":"high","area":"infection","pct":62.7,"lane":-2.4},
{"panel":"high","area":"infection","pct":61.2,"lane":-1.3},
{"panel":"high","area":"infection","pct":60.2,"lane":-0.1},
{"panel":"high","area":"infection","pct":60.6,"lane":1},
{"panel":"high","area":"infection","pct":61.5,"lane":2.2},
{"panel":"high","area":"others","pct":88.6,"lane":-1.7},
{"panel":"high","area":"others","pct":88.0,"lane":0},
{"panel":"high","area":"others","pct":89.4,"lane":1.2},
{"panel":"high","area":"others","pct":86.0,"lane":-1.1},
{"panel":"high","area":"others","pct":83.9,"lane":0},
{"panel":"high","area":"others","pct":84.6,"lane":1.2},
{"panel":"high","area":"others","pct":79.4,"lane":0},
{"panel":"high","area":"others","pct":70.4,"lane":0},
{"panel":"high","area":"others","pct":64.8,"lane":0},
{"panel":"high","area":"others","pct":62.6,"lane":-1.1},
{"panel":"high","area":"others","pct":62.2,"lane":1.2},
{"panel":"high","area":"others","pct":60.9,"lane":0},
{"panel":"excellent","area":"cancer","pct":97.7,"lane":-0.3},
{"panel":"excellent","area":"cancer","pct":96.4,"lane":0.9},
{"panel":"excellent","area":"cancer","pct":93.7,"lane":-1.9},
{"panel":"excellent","area":"cancer","pct":93.0,"lane":-0.8},
{"panel":"excellent","area":"cancer","pct":91.9,"lane":0.3},
{"panel":"excellent","area":"cancer","pct":92.6,"lane":1.4},
{"panel":"excellent","area":"cancer","pct":93.7,"lane":2.6},
{"panel":"excellent","area":"cardiovascular","pct":97.7,"lane":0.2},
{"panel":"excellent","area":"cardiovascular","pct":92.6,"lane":-0.3},
{"panel":"excellent","area":"cardiovascular","pct":92.9,"lane":0.8},
{"panel":"excellent","area":"inflammation","pct":90.9,"lane":0.2},
{"panel":"excellent","area":"neurological disease","pct":93.7,"lane":0.1},
{"panel":"excellent","area":"infection","pct":98.9,"lane":-0.6},
{"panel":"excellent","area":"infection","pct":100.8,"lane":0.6}
]},
"concat": [
{"width": 1468, "height": 646,
 "title": {"text": "LOW ACTIVITY (n=129)", "frame": "group", "anchor": "middle", "dx": -26, "fontSize": 38, "fontWeight": "bold", "font": "Liberation Sans", "color": "#111111", "offset": 50},
 "transform": [{"filter": "datum.panel === 'low'"}],
 "mark": {"type": "circle", "size": 220, "opacity": 1},
 "encoding": {
  "x": {"field": "area", "type": "nominal", "title": "research area", "scale": {"domain": ["cancer","cardiovascular","endocrinology","inflammation","metabolic disease","neurological disease","infection","others"], "paddingInner": 0, "paddingOuter": 0.17}, "axis": {"labelExpr": "split(datum.label, ' ')"}},
  "xOffset": {"field": "lane", "type": "quantitative", "scale": {"domain": [-5.5, 5.5]}},
  "y": {"field": "pct", "type": "quantitative", "title": "antibiofilm (formation) activity (%)", "scale": {"domain": [0, 110], "nice": false}, "axis": {"values": [0, 25, 50, 75, 100]}},
  "color": {"field": "area", "type": "nominal", "legend": null, "scale": {"domain": ["cancer","cardiovascular","endocrinology","inflammation","metabolic disease","neurological disease","infection","others"], "range": ["#000000","#ff0000","#0000ff","#ff8000","#00c000","#ff44cc","#8888ff","#006400"]}}
 }},
{"width": 1468, "height": 646,
 "title": {"text": "MODERATE ACTIVITY (n=344)", "frame": "group", "anchor": "middle", "dx": 44, "fontSize": 38, "fontWeight": "bold", "font": "Liberation Sans", "color": "#111111", "offset": 50},
 "transform": [{"filter": "datum.panel === 'moderate'"}],
 "mark": {"type": "circle", "size": 220, "opacity": 1},
 "encoding": {
  "x": {"field": "area", "type": "nominal", "title": "research area", "scale": {"domain": ["cancer","cardiovascular","endocrinology","inflammation","metabolic disease","neurological disease","infection","others"], "paddingInner": 0, "paddingOuter": 0.17}, "axis": {"labelExpr": "split(datum.label, ' ')"}},
  "xOffset": {"field": "lane", "type": "quantitative", "scale": {"domain": [-5.5, 5.5]}},
  "y": {"field": "pct", "type": "quantitative", "title": "antibiofilm (formation) activity (%)", "scale": {"domain": [0, 110], "nice": false}, "axis": {"values": [0, 25, 50, 75, 100]}},
  "color": {"field": "area", "type": "nominal", "legend": null, "scale": {"domain": ["cancer","cardiovascular","endocrinology","inflammation","metabolic disease","neurological disease","infection","others"], "range": ["#000000","#ff0000","#0000ff","#ff8000","#00c000","#ff44cc","#8888ff","#006400"]}}
 }},
{"width": 1468, "height": 646,
 "title": {"text": "HIGH ACTIVITY (n=168)", "frame": "group", "anchor": "middle", "dx": -16, "fontSize": 38, "fontWeight": "bold", "font": "Liberation Sans", "color": "#111111", "offset": 50},
 "transform": [{"filter": "datum.panel === 'high'"}],
 "mark": {"type": "circle", "size": 220, "opacity": 1},
 "encoding": {
  "x": {"field": "area", "type": "nominal", "title": "research area", "scale": {"domain": ["cancer","cardiovascular","endocrinology","inflammation","metabolic disease","neurological disease","infection","others"], "paddingInner": 0, "paddingOuter": 0.17}, "axis": {"labelExpr": "split(datum.label, ' ')"}},
  "xOffset": {"field": "lane", "type": "quantitative", "scale": {"domain": [-5.5, 5.5]}},
  "y": {"field": "pct", "type": "quantitative", "title": "antibiofilm (formation) activity (%)", "scale": {"domain": [0, 110], "nice": false}, "axis": {"values": [0, 25, 50, 75, 100]}},
  "color": {"field": "area", "type": "nominal", "legend": null, "scale": {"domain": ["cancer","cardiovascular","endocrinology","inflammation","metabolic disease","neurological disease","infection","others"], "range": ["#000000","#ff0000","#0000ff","#ff8000","#00c000","#ff44cc","#8888ff","#006400"]}}
 }},
{"width": 1468, "height": 646,
 "title": {"text": "EXCELLENT ACTIVITY (n=14)", "frame": "group", "anchor": "middle", "dx": 38, "fontSize": 38, "fontWeight": "bold", "font": "Liberation Sans", "color": "#111111", "offset": 50},
 "transform": [{"filter": "datum.panel === 'excellent'"}],
 "mark": {"type": "circle", "size": 220, "opacity": 1},
 "encoding": {
  "x": {"field": "area", "type": "nominal", "title": "research area", "scale": {"domain": ["cancer","cardiovascular","endocrinology","inflammation","metabolic disease","neurological disease","infection","others"], "paddingInner": 0, "paddingOuter": 0.17}, "axis": {"labelExpr": "split(datum.label, ' ')"}},
  "xOffset": {"field": "lane", "type": "quantitative", "scale": {"domain": [-5.5, 5.5]}},
  "y": {"field": "pct", "type": "quantitative", "title": "antibiofilm (formation) activity (%)", "scale": {"domain": [0, 110], "nice": false}, "axis": {"values": [0, 25, 50, 75, 100]}},
  "color": {"field": "area", "type": "nominal", "legend": null, "scale": {"domain": ["cancer","cardiovascular","endocrinology","inflammation","metabolic disease","neurological disease","infection","others"], "range": ["#000000","#ff0000","#0000ff","#ff8000","#00c000","#ff44cc","#8888ff","#006400"]}}
 }}
],
"resolve": {"scale": {"x": "independent", "y": "independent", "xOffset": "independent"}},
"config": {
 "font": "Liberation Sans",
 "view": {"stroke": "#1a1a1a", "strokeWidth": 4},
 "axis": {"grid": false, "domain": false, "labelFont": "Liberation Sans", "titleFont": "Liberation Sans", "labelColor": "#222222", "titleColor": "#222222"},
 "axisY": {"labelFontSize": 28, "labelFontWeight": "bold", "tickSize": 10, "tickWidth": 3, "tickColor": "#222222", "labelPadding": 4, "titleFontSize": 28, "titleFontWeight": "bold", "titlePadding": 8},
 "axisX": {"ticks": false, "labelFontSize": 26, "labelFontWeight": "normal", "labelAngle": 0, "labelPadding": 20, "labelLineHeight": 28, "labelLimit": 400, "labelOverlap": false, "titleFontSize": 32, "titleFontWeight": "normal", "titlePadding": 24}
}
}
